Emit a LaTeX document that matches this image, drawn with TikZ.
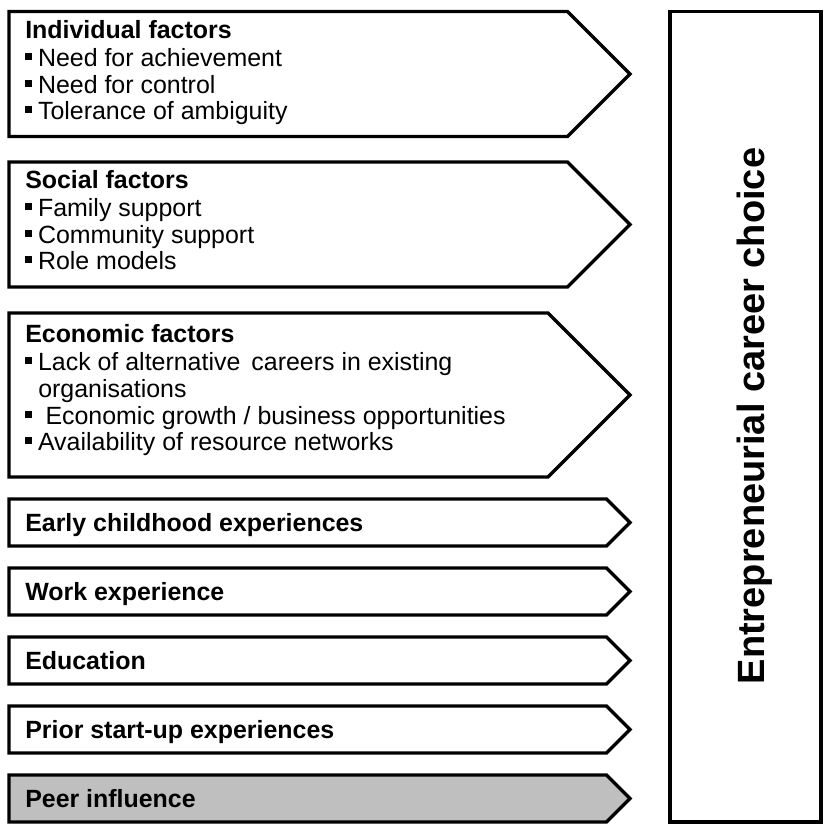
\documentclass[tikz,border=0pt]{standalone}
\usepackage{fontspec}
\setmainfont{Liberation Sans}
\definecolor{peergray}{RGB}{191,191,191}
\newcommand\mybullet{\rule[4.3pt]{5.2pt}{5.2pt}}
\begin{document}
\begin{tikzpicture}[x=0.75pt,y=-0.75pt,
  arrowbox/.style={draw=black,line width=2.5pt,fill=white},
  txt/.style={anchor=base west,inner sep=0pt,font=\fontsize{18.7}{20}\selectfont},
  head/.style={anchor=base west,inner sep=0pt,font=\fontsize{18.7}{20}\selectfont\bfseries},
  bigtxt/.style={anchor=base,inner sep=0pt,rotate=90,font=\fontsize{28.5}{30}\selectfont\bfseries}]
\useasboundingbox (0,0) rectangle (824,826);

% large target box
\draw[arrowbox] (670,11.5) rectangle (821,822);
\node[bigtxt] (choice) at (764,416) {Entrepreneurial career choice};

% Individual factors
\draw[arrowbox] (9,11.5) -- (567.5,11.5) -- (630,74) -- (567.5,136.5) -- (9,136.5) -- cycle;
\node[head] (ind) at (25,38) {Individual factors};
\node[txt] (ind1) at (25,66) {\mybullet\hspace{4.4pt}Need for achievement};
\node[txt] (ind2) at (25,93) {\mybullet\hspace{4.4pt}Need for control};
\node[txt] (ind3) at (25,119) {\mybullet\hspace{4.4pt}Tolerance of ambiguity};

% Social factors
\draw[arrowbox] (9,162) -- (567.5,162) -- (630,224.5) -- (567.5,287) -- (9,287) -- cycle;
\node[head] (soc) at (25,188) {Social factors};
\node[txt] (soc1) at (25,216) {\mybullet\hspace{4.4pt}Family support};
\node[txt] (soc2) at (25,243) {\mybullet\hspace{4.4pt}Community support};
\node[txt] (soc3) at (25,269) {\mybullet\hspace{4.4pt}Role models};

% Economic factors
\draw[arrowbox] (9,313) -- (548,313) -- (630,395) -- (548,477) -- (9,477) -- cycle;
\node[head] (eco) at (25,342) {Economic factors};
\node[txt] (eco1) at (25,370) {\mybullet\hspace{4.4pt}Lack of alternative \,careers in existing};
\node[txt] (eco1b) at (38,397) {organisations};
\node[txt] (eco2) at (25,424) {\mybullet\hspace{10pt}Economic growth / business opportunities};
\node[txt] (eco3) at (25,450) {\mybullet\hspace{4.4pt}Availability of resource networks};

% single-line factors
\foreach \t/\nm/\lab/\col in {499/early/Early childhood experiences/white,
                              568/work/Work experience/white,
                              637/edu/Education/white,
                              706/prior/Prior start-up experiences/white,
                              775/peer/Peer influence/peergray}{
  \draw[arrowbox,fill=\col] (9,\t) -- (606.5,\t) -- (630,\t+23.5) -- (606.5,\t+47) -- (9,\t+47) -- cycle;
  \node[head] (\nm) at (25,\t+32.5) {\lab};
}
\end{tikzpicture}
\end{document}
